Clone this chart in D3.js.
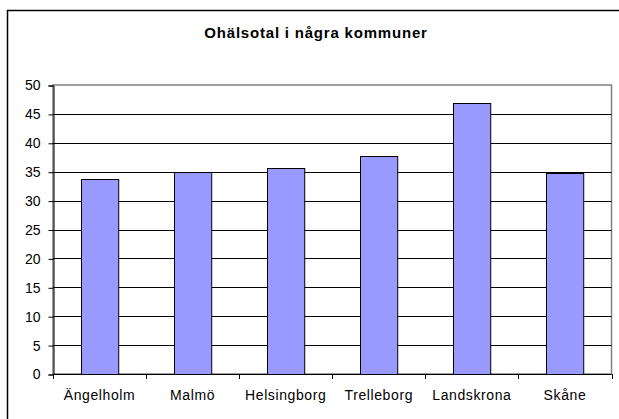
<!DOCTYPE html>
<html>
<head>
<meta charset="utf-8">
<script src="https://cdn.jsdelivr.net/npm/d3@7"></script>
<style>
  body { margin: 0; background: #fff; }
  svg { display: block; font-family: "Liberation Sans", Arial, sans-serif; }
</style>
</head>
<body>
<svg id="chart" width="619" height="419"></svg>
<script>
const categories = ["Ängelholm", "Malmö", "Helsingborg", "Trelleborg", "Landskrona", "Skåne"];
const values = [33.7, 34.9, 35.6, 37.8, 46.8, 34.7];
const yTicks = [0, 5, 10, 15, 20, 25, 30, 35, 40, 45, 50];

var svg = d3.select("#chart");

// outer chart frame (runs off the right/bottom edge like the original)
svg.append("rect")
  .attr("x", 7.5).attr("y", 10.5)
  .attr("width", 640).attr("height", 440)
  .attr("fill", "#fff").attr("stroke", "#000").attr("stroke-width", 1.5);

svg.append("text")
  .attr("x", 316).attr("y", 38)
  .attr("text-anchor", "middle")
  .attr("font-size", "15px").attr("font-weight", "bold")
  .attr("letter-spacing", "0.8px")
  .text("Ohälsotal i några kommuner");

// plot area
var plot = {left: 53, right: 611.5, top: 85, bottom: 374};

var x = d3.scaleBand()
  .domain(categories)
  .range([plot.left, plot.right])
  .paddingInner(0.6)
  .paddingOuter(0.3);

var xTickScale = d3.scaleLinear().domain([0, categories.length]).range([plot.left, plot.right]);

var y = d3.scaleLinear().domain([0, 50]).range([plot.bottom, plot.top]);

// plot border (grey top/right)
svg.append("rect")
  .attr("x", plot.left).attr("y", plot.top)
  .attr("width", plot.right - plot.left).attr("height", plot.bottom - plot.top)
  .attr("fill", "none").attr("stroke", "#808080").attr("stroke-width", 1.5);

// gridlines
svg.append("g")
  .selectAll("line")
  .data(yTicks.filter(d => d > 0 && d < 50))
  .enter().append("line")
    .attr("x1", plot.left).attr("x2", plot.right)
    .attr("y1", d => Math.round(y(d)) + 0.5)
    .attr("y2", d => Math.round(y(d)) + 0.5)
    .attr("stroke", "#000");

// bars
svg.append("g")
  .selectAll("rect")
  .data(values)
  .enter().append("rect")
    .attr("x", (d, i) => Math.round(x(categories[i])) + 0.5)
    .attr("y", d => Math.round(y(d)) + 0.5)
    .attr("width", x.bandwidth())
    .attr("height", d => Math.round(y(0)) - Math.round(y(d)))
    .attr("fill", "#9999ff")
    .attr("stroke", "#000");

// y axis
var yAxis = d3.axisLeft(y)
  .tickValues(yTicks)
  .tickSize(5)
  .tickPadding(8);

var gy = svg.append("g")
  .attr("transform", "translate(" + (plot.left + 0.5) + ",0.5)")
  .call(yAxis);
gy.select(".domain").attr("stroke", "#000");
gy.selectAll(".tick line").attr("stroke", "#000");
gy.selectAll("text").attr("font-size", "14px").attr("fill", "#000")
  .attr("font-family", "Liberation Sans, Arial, sans-serif");

// x axis: line plus ticks at band boundaries
var gx = svg.append("g");
gx.append("line")
  .attr("x1", plot.left).attr("x2", plot.right)
  .attr("y1", plot.bottom + 0.5).attr("y2", plot.bottom + 0.5)
  .attr("stroke", "#000");
gx.selectAll(".xt")
  .data(d3.range(categories.length + 1))
  .enter().append("line")
    .attr("class", "xt")
    .attr("x1", d => Math.round(xTickScale(d)) + 0.5)
    .attr("x2", d => Math.round(xTickScale(d)) + 0.5)
    .attr("y1", plot.bottom).attr("y2", plot.bottom + 5)
    .attr("stroke", "#000");
gx.selectAll("text")
  .data(categories)
  .enter().append("text")
    .attr("x", d => x(d) + x.bandwidth() / 2)
    .attr("y", 400)
    .attr("text-anchor", "middle")
    .attr("font-size", "14px")
    .attr("letter-spacing", "0.6px")
    .text(d => d);
</script>
</body>
</html>
